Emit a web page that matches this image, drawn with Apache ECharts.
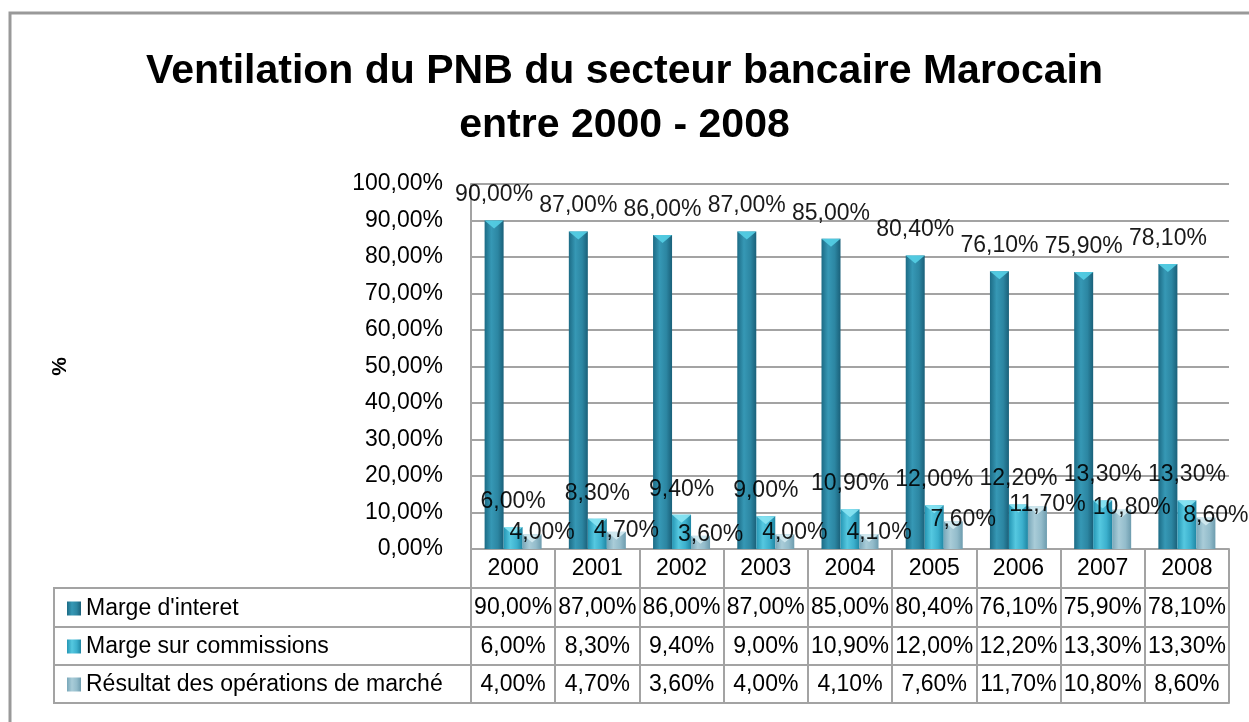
<!DOCTYPE html>
<html>
<head>
<meta charset="utf-8">
<script src="https://cdn.jsdelivr.net/npm/echarts@6/dist/echarts.min.js"></script>
<style>
html,body{margin:0;padding:0;background:#fff;}
#c{width:1249px;height:722px;}
</style>
</head>
<body>
<div id="c"></div>
<script>
var years = ['2000','2001','2002','2003','2004','2005','2006','2007','2008'];
var seriesNames = ["Marge d'interet", 'Marge sur commissions', 'Résultat des opérations de marché'];
var margeInteret = [90.00, 87.00, 86.00, 87.00, 85.00, 80.40, 76.10, 75.90, 78.10];
var margeCommissions = [6.00, 8.30, 9.40, 9.00, 10.90, 12.00, 12.20, 13.30, 13.30];
var resultatMarche = [4.00, 4.70, 3.60, 4.00, 4.10, 7.60, 11.70, 10.80, 8.60];

function fmt(v){ return Number(v).toFixed(2).replace('.', ',') + '%'; }

var FONT = 'Liberation Sans';
var GRAY = '#a3a3a3';
var FS = 23;

var gridLeft = 471, gridRight = 20, gridTop = 184, gridBottom = 173;
var H = 722;
var axisY = H - gridBottom;            // 549
var rowOffsets = [39, 78, 116, 154];   // table row lines
var rows = [margeInteret, margeCommissions, resultatMarche];
var BW = 19;

function grad(c0, c1, c2, c3){
  return new echarts.graphic.LinearGradient(0, 0, 1, 0, [
    {offset: 0, color: c0}, {offset: 0.35, color: c1},
    {offset: 0.7, color: c2}, {offset: 1, color: c3}
  ]);
}
var colors = [
  grad('#1c6b85', '#3698b5', '#2c86a2', '#1a6079'),
  grad('#2596b4', '#55c8e0', '#3cb0cd', '#1f86a3'),
  grad('#78a7b9', '#a9ccd8', '#93bccb', '#6d9cae')
];
var capColors = ['#55cfe6', '#8ae4f3', '#d3eaf1'];

var xAxes = [{
  type: 'category', data: years, gridIndex: 0, position: 'bottom', offset: 0,
  axisLine: {show: true, lineStyle: {color: GRAY, width: 2}},
  axisTick: {show: true, interval: 0, length: rowOffsets[0], lineStyle: {color: GRAY, width: 2}},
  axisLabel: {interval: 0, fontFamily: FONT, fontSize: FS, color: '#000', margin: 8}
}];
rows.forEach(function(arr, r){
  xAxes.push({
    type: 'category', data: years, gridIndex: 0, position: 'bottom', offset: rowOffsets[r],
    axisLine: {show: true, lineStyle: {color: GRAY, width: 2}},
    axisTick: {show: true, interval: 0, length: rowOffsets[r+1] - rowOffsets[r], lineStyle: {color: GRAY, width: 2}},
    axisLabel: {interval: 0, fontFamily: FONT, fontSize: FS, color: '#000', margin: 8,
      formatter: function(v, i){ return fmt(arr[i]); }}
  });
});
xAxes.push({
  type: 'category', data: years, gridIndex: 0, position: 'bottom', offset: rowOffsets[3],
  axisLine: {show: true, lineStyle: {color: GRAY, width: 2}},
  axisTick: {show: false}, axisLabel: {show: false}
});

var tableTop = axisY + rowOffsets[0];
var tableBottom = axisY + rowOffsets[3];
var legendLeftX = 54;

var barSeries = rows.map(function(arr, i){
  return {name: seriesNames[i], type: 'bar', data: arr, barWidth: BW, barGap: '0%',
    itemStyle: {color: colors[i]}, label: {show: false}, z: 2};
});
var labelOffsets = [[-BW, 0], [0, 0], [BW + 10, 12]];
var labelDist = [14, 14, 2];
var capSeries = rows.map(function(arr, i){
  return {name: 'cap' + i, type: 'pictorialBar', data: arr,
    symbol: 'path://M0,0 L10,0 L5,4 Z', symbolSize: [BW, 8], symbolPosition: 'end',
    symbolOffset: [(i - 1) * BW, 0], itemStyle: {color: capColors[i], opacity: 0.9},
    label: {show: true, position: 'top', distance: labelDist[i], offset: labelOffsets[i],
      fontFamily: FONT, fontSize: FS, color: '#000',
      formatter: function(p){ return fmt(p.value); }},
    silent: true, z: 3, legendHoverLink: false};
});

var option = {
  animation: false,
  backgroundColor: '#fff',
  title: {
    text: 'Ventilation du PNB du secteur bancaire Marocain\nentre 2000 - 2008',
    left: 'center', top: 40,
    textStyle: {fontFamily: FONT, fontSize: 41, fontWeight: 'bold', color: '#000', lineHeight: 54}
  },
  grid: {left: gridLeft, right: gridRight, top: gridTop, bottom: gridBottom},
  legend: {
    orient: 'vertical', left: 62, top: tableTop + 4,
    data: seriesNames, icon: 'rect', itemWidth: 14, itemHeight: 14, itemGap: 15,
    textStyle: {fontFamily: FONT, fontSize: FS, color: '#000', lineHeight: 23},
    selectedMode: false
  },
  xAxis: xAxes,
  yAxis: {
    type: 'value', min: 0, max: 100, interval: 10,
    name: '%', nameLocation: 'middle', nameGap: 400, nameRotate: 90,
    nameTextStyle: {fontFamily: FONT, fontSize: 21, fontWeight: 'bold', color: '#000'},
    axisLine: {show: true, lineStyle: {color: GRAY, width: 2}},
    axisTick: {show: false},
    splitLine: {show: true, lineStyle: {color: GRAY, width: 2}},
    axisLabel: {fontFamily: FONT, fontSize: FS, color: '#000', margin: 28, formatter: fmt}
  },
  series: barSeries.concat(capSeries),
  graphic: [
    {type: 'rect', silent: true, z: -1, shape: {x: 10, y: 13, width: 1300, height: 760},
      style: {fill: 'none', stroke: '#999', lineWidth: 3}},
    {type: 'rect', silent: true, shape: {x: legendLeftX, y: tableTop, width: gridLeft - legendLeftX, height: tableBottom - tableTop},
      style: {fill: 'none', stroke: GRAY, lineWidth: 2}},
    {type: 'line', silent: true, shape: {x1: legendLeftX, y1: axisY + rowOffsets[1], x2: gridLeft, y2: axisY + rowOffsets[1]},
      style: {stroke: GRAY, lineWidth: 2}},
    {type: 'line', silent: true, shape: {x1: legendLeftX, y1: axisY + rowOffsets[2], x2: gridLeft, y2: axisY + rowOffsets[2]},
      style: {stroke: GRAY, lineWidth: 2}}
  ]
};

var chart = echarts.init(document.getElementById('c'), null, {renderer: 'canvas'});
chart.setOption(option);
</script>
</body>
</html>
